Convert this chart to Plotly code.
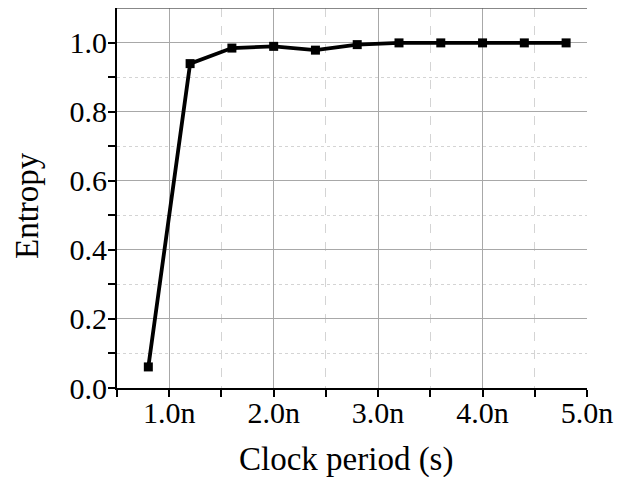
import plotly.graph_objects as go

clock_ns = [0.8, 1.2, 1.6, 2.0, 2.4, 2.8, 3.2, 3.6, 4.0, 4.4, 4.8]
entropy = [0.061, 0.939, 0.984, 0.989, 0.978, 0.994, 0.999, 0.999, 0.999, 0.999, 0.999]
x_tick_vals = [1, 2, 3, 4, 5]
x_tick_text = ["1.0n", "2.0n", "3.0n", "4.0n", "5.0n"]
y_tick_vals = [0, 0.2, 0.4, 0.6, 0.8, 1.0]
x_title = "Clock period (s)"
y_title = "Entropy"

font_family = "Liberation Serif, Times New Roman, serif"

# The page body has an 8px margin, so the figure is made 8px smaller and
# its margins shifted so the plot area lands where the reference has it.
fig = go.Figure()
fig.add_trace(go.Scatter(
    x=clock_ns, y=entropy, mode="lines+markers",
    line=dict(color="black", width=3.8),
    marker=dict(symbol="square", size=9, color="black"),
    showlegend=False,
))

fig.update_layout(
    width=618, height=469,
    margin=dict(l=109, r=39, t=0, b=89),
    paper_bgcolor="white", plot_bgcolor="white",
    font=dict(family=font_family, color="black", size=30),
    xaxis=dict(
        range=[0.5, 5.0], tickvals=x_tick_vals, ticktext=x_tick_text,
        showline=True, linecolor="black", linewidth=2,
        ticks="outside", ticklen=7, tickwidth=2, tickcolor="black",
        showgrid=True, gridcolor="#a8a8a8", gridwidth=1,
        minor=dict(tickvals=[0.5, 1.5, 2.5, 3.5, 4.5], ticks="outside", ticklen=7,
                   tickwidth=2, tickcolor="black", showgrid=True,
                   gridcolor="#d4d4d4", griddash="dash", gridwidth=1),
        zeroline=False, tickfont=dict(size=30), ticklabelstandoff=-10,
    ),
    yaxis=dict(
        range=[0, 1.1], tickvals=y_tick_vals,
        tickformat=".1f",
        showline=True, linecolor="black", linewidth=2,
        ticks="outside", ticklen=7, tickwidth=2, tickcolor="black",
        showgrid=True, gridcolor="#a8a8a8", gridwidth=1,
        minor=dict(tickvals=[0.1, 0.3, 0.5, 0.7, 0.9], ticks="outside", ticklen=7,
                   tickwidth=2, tickcolor="black", showgrid=True,
                   gridcolor="#d4d4d4", griddash="dot", gridwidth=1),
        zeroline=False, tickfont=dict(size=30), ticklabelstandoff=-5,
    ),
)
fig.add_shape(type="line", xref="paper", yref="paper", x0=0, x1=1, y0=1, y1=1,
              line=dict(color="#606060", width=1.5))
fig.add_annotation(text=x_title, xref="paper", yref="paper", x=0.5, y=0,
                   xanchor="center", yanchor="middle", xshift=-6, yshift=-71,
                   showarrow=False, font=dict(size=33, family=font_family))
fig.add_annotation(text=y_title, xref="paper", yref="paper", x=0, y=0.5,
                   xanchor="center", yanchor="middle", xshift=-90, yshift=-8,
                   textangle=-90, showarrow=False,
                   font=dict(size=33, family=font_family))

fig.write_html("out.html")
